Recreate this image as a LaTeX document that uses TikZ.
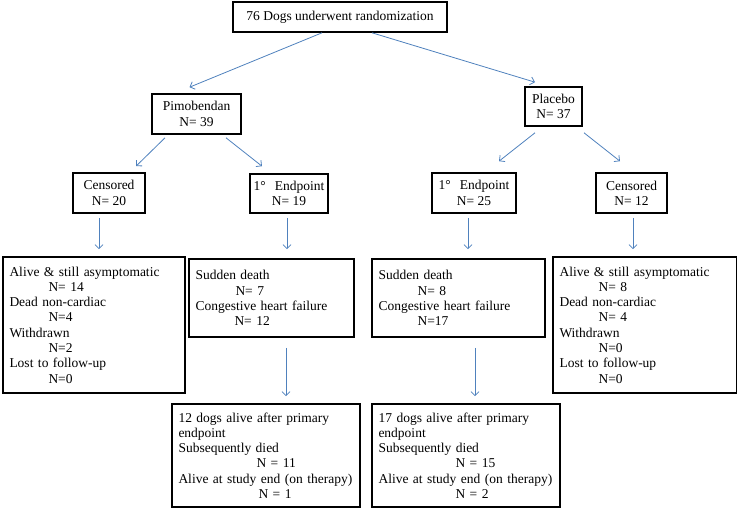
\documentclass[tikz,border=0pt]{standalone}
\usepackage{fontspec}
\setmainfont{Liberation Serif}
\usetikzlibrary{arrows.meta}
\definecolor{arrowblue}{RGB}{79,129,189}
\newcommand{\nind}{\hspace*{39pt}}

\begin{document}
\begin{tikzpicture}[
  x=1pt, y=-1pt,
  font=\fontsize{13.5}{15.3}\selectfont,
  box/.style={draw=black, line width=1.6pt, align=center, inner sep=0pt},
  listbox/.style={box, align=left, inner xsep=6.5pt, text width=#1},
  arr/.style={draw=arrowblue, line width=0.8pt, -{Straight Barb[length=4pt,width=8pt]}}
]
  \useasboundingbox (0,0) rectangle (739,509);

  % Randomization and the two arms
  \node[box, minimum width=214pt, minimum height=30pt] (rand) at (340,17) {76 Dogs underwent randomization};
  \node[box, minimum width=89pt, minimum height=40pt] (pim) at (196.5,114) {Pimobendan\\N= 39};
  \node[box, minimum width=57pt, minimum height=39pt] (plac) at (553.5,106.5) {Placebo\\N= 37};

  % Censored / primary endpoint
  \node[box, minimum width=72pt, minimum height=40pt] (censL) at (109,193) {Censored\\N= 20};
  \node[box, minimum width=78pt, minimum height=39pt] (endL) at (289,193.5) {1°\hspace{9pt}Endpoint\\N= 19};
  \node[box, minimum width=84pt, minimum height=40pt] (endR) at (474,193) {1°\hspace{9pt}Endpoint\\N= 25};
  \node[box, minimum width=71pt, minimum height=40pt] (censR) at (631.5,193) {Censored\\N= 12};

  % Outcome lists
  \node[listbox=169pt, minimum height=136pt] (aliveL) at (94,325) {Alive \& still asymptomatic\\\nind N= 14\\Dead non-cardiac\\\nind N=4\\Withdrawn\\\nind N=2\\Lost to follow-up\\\nind N=0};
  \node[listbox=152pt, minimum height=78pt] (deathL) at (271.5,298) {Sudden death\\\hspace*{40pt}N= 7\\Congestive heart failure\\\nind N= 12};
  \node[listbox=160pt, minimum height=78pt] (deathR) at (458.5,298) {Sudden death\\\nind N= 8\\Congestive heart failure\\\nind N=17};
  \node[listbox=170.5pt, minimum height=136pt] (aliveR) at (644.75,325) {Alive \& still asymptomatic\\\nind N= 8\\Dead non-cardiac\\\nind N= 4\\Withdrawn\\\nind N=0\\Lost to follow-up\\\nind N=0};

  % After the primary endpoint
  \node[listbox=175pt, minimum height=103pt] (afterL) at (266,455.5) {12 dogs alive after primary\\endpoint\\Subsequently died\\\hspace*{78pt}N = 11\\Alive at study end (on therapy)\\\hspace*{80pt}N = 1};
  \node[listbox=175pt, minimum height=103pt] (afterR) at (466,455.5) {17 dogs alive after primary\\endpoint\\Subsequently died\\\hspace*{77pt}N = 15\\Alive at study end (on therapy)\\\hspace*{77pt}N = 2};

  % Arrows
  \draw[arr] ([xshift=-18pt]rand.south) -- ([xshift=-7pt,yshift=6pt]pim.north);
  \draw[arr] ([xshift=32pt]rand.south) -- ([xshift=-18.5pt,yshift=4pt]plac.north);
  \draw[arr] ([xshift=-31.5pt,yshift=-3pt]pim.south) -- ([xshift=27pt,yshift=6pt]censL.north);
  \draw[arr] ([xshift=29.5pt,yshift=-3pt]pim.south) -- ([xshift=-27pt,yshift=7pt]endL.north);
  \draw[arr] ([xshift=-18.5pt,yshift=-6pt]plac.south) -- ([xshift=25pt,yshift=11pt]endR.north);
  \draw[arr] ([xshift=30.5pt,yshift=-6pt]plac.south) -- ([xshift=-11.5pt,yshift=11pt]censR.north);
  \draw[arr] ([xshift=-10pt,yshift=-4pt]censL.south) -- ([xshift=5pt,yshift=7pt]aliveL.north);
  \draw[arr] ([xshift=-2pt,yshift=-4pt]endL.south) -- ([xshift=15.5pt,yshift=9pt]deathL.north);
  \draw[arr] ([xshift=-6pt,yshift=-4pt]endR.south) -- ([xshift=9.5pt,yshift=9pt]deathR.north);
  \draw[arr] ([xshift=1.5pt,yshift=-4pt]censR.south) -- ([xshift=-11.75pt,yshift=7pt]aliveR.north);
  \draw[arr] ([xshift=14.5pt,yshift=-10pt]deathL.south) -- ([xshift=20pt,yshift=7pt]afterL.north);
  \draw[arr] ([xshift=16.5pt,yshift=-10pt]deathR.south) -- ([xshift=9pt,yshift=7pt]afterR.north);

\end{tikzpicture}
\end{document}
